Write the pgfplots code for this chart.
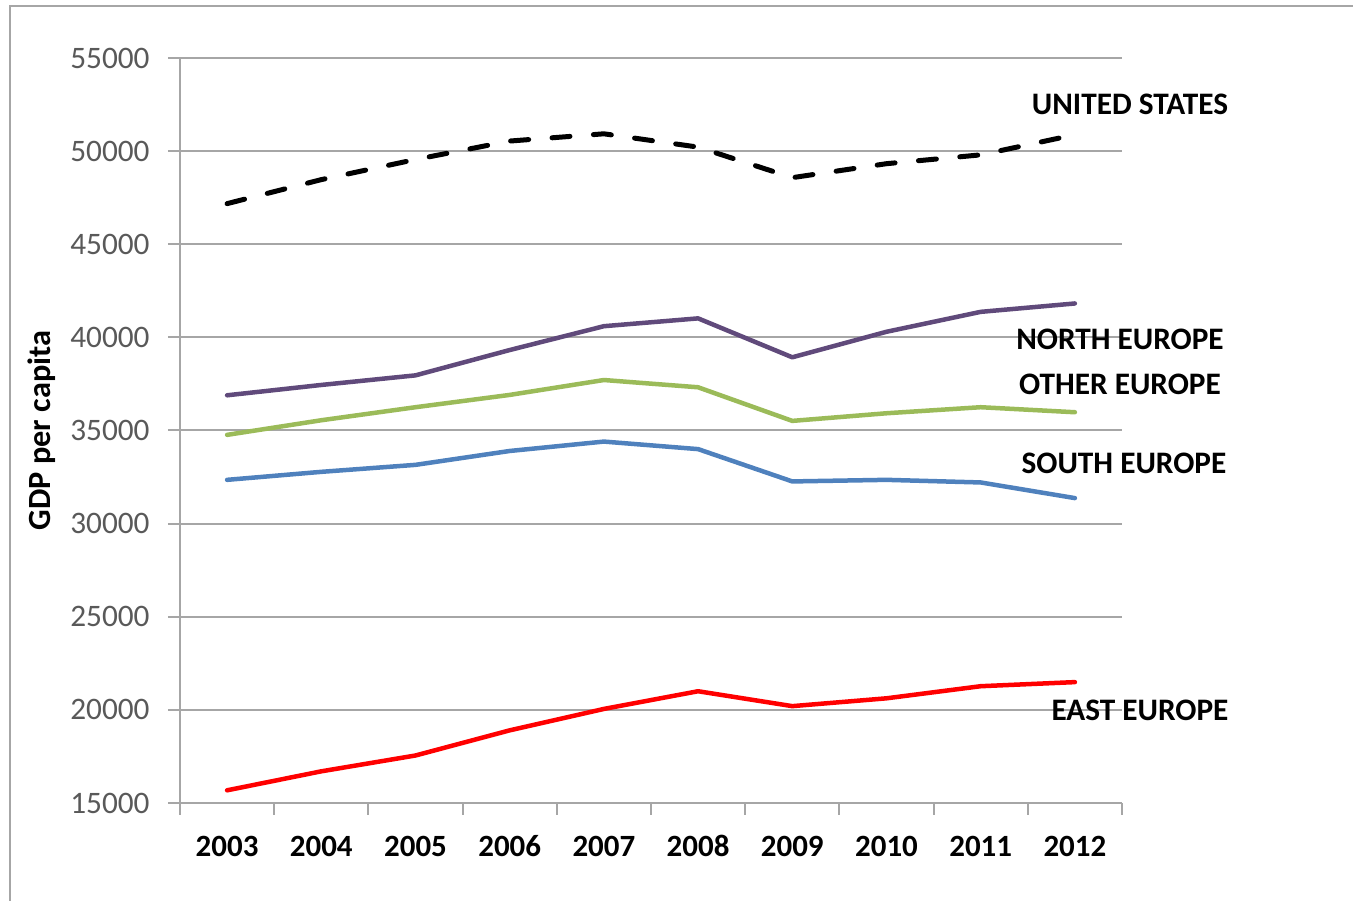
\documentclass[border=0pt]{standalone}
\usepackage{fontspec}
\setmainfont{Carlito}
\usepackage{pgfplots}
\pgfplotsset{compat=1.18}
\definecolor{cPurple}{HTML}{604A7B}
\definecolor{cGreen}{HTML}{9BBB59}
\definecolor{cBlue}{HTML}{4F81BD}
\definecolor{cGrid}{HTML}{A6A6A6}
\definecolor{cTick}{HTML}{595959}
\begin{document}
\begin{tikzpicture}
\useasboundingbox (0,0) rectangle (135.3mm,90.1mm);
\draw[cGrid, line width=0.25mm] (1.0mm,0) -- (1.0mm,89.5mm) -- (135.3mm,89.5mm);
\begin{axis}[
  at={(18mm,9.8mm)}, anchor=south west,
  width=94.2mm, height=74.5mm, scale only axis,
  xmin=-0.5, xmax=9.5, ymin=15000, ymax=55000,
  clip=false,
  axis lines=left, axis line style={-, cGrid, line width=0.2mm},
  xtick={-0.5,0.5,...,9.5}, xticklabels={},
  extra x ticks={0,1,2,3,4,5,6,7,8,9},
  extra x tick labels={2003,2004,2005,2006,2007,2008,2009,2010,2011,2012},
  extra x tick style={major tick length=0pt},
  ytick={15000,20000,...,55000},
  ymajorgrids, grid style={cGrid, line width=0.2mm},
  tick align=outside, major tick length=1.2mm,
  tick style={cGrid, line width=0.2mm},
  yticklabel style={font=\fontsize{8.9}{10}\selectfont, text=cTick, xshift=-0.6mm},
  xticklabel style={font=\bfseries\fontsize{8.8}{10}\selectfont, text=black, text height=2.1mm, text depth=0pt, anchor=north, yshift=-2.0mm},
  ylabel={GDP per capita},
  ylabel style={font=\bfseries\fontsize{9.2}{10}\selectfont, at={(axis description cs:-0.1465,0.5)}, anchor=center, rotate=0},
  scaled y ticks=false,
  line join=round,
  /pgf/number format/.cd, 1000 sep={}, assume math mode=true,
]
\addplot[black, line width=0.5mm, dash pattern=on 1.8mm off 2.35mm, line cap=round] coordinates {(0,47180)(1,48470)(2,49550)(3,50540)(4,50930)(5,50215)(6,48575)(7,49325)(8,49800)(9,50880)};
\addplot[cPurple, line width=0.45mm, line cap=round] coordinates {(0,36890)(1,37445)(2,37960)(3,39320)(4,40600)(5,41020)(6,38930)(7,40300)(8,41370)(9,41820)};
\addplot[cGreen, line width=0.45mm, line cap=round] coordinates {(0,34765)(1,35550)(2,36250)(3,36910)(4,37710)(5,37320)(6,35515)(7,35925)(8,36250)(9,35980)};
\addplot[cBlue, line width=0.45mm, line cap=round] coordinates {(0,32350)(1,32780)(2,33155)(3,33900)(4,34405)(5,34000)(6,32265)(7,32350)(8,32210)(9,31370)};
\addplot[red, line width=0.45mm, line cap=round] coordinates {(0,15680)(1,16700)(2,17550)(3,18900)(4,20050)(5,21000)(6,20200)(7,20620)(8,21270)(9,21490)};
\node[font=\bfseries\fontsize{8.9}{10}\selectfont] at (axis cs:9.585,52530) {UNITED STATES};
\node[font=\bfseries\fontsize{8.9}{10}\selectfont] at (axis cs:9.479,39913) {NORTH EUROPE};
\node[font=\bfseries\fontsize{8.9}{10}\selectfont] at (axis cs:9.479,37497) {OTHER EUROPE};
\node[font=\bfseries\fontsize{8.9}{10}\selectfont] at (axis cs:9.521,33255) {SOUTH EUROPE};
\node[font=\bfseries\fontsize{8.9}{10}\selectfont] at (axis cs:9.691,19993) {EAST EUROPE};
\end{axis}
\end{tikzpicture}
\end{document}
